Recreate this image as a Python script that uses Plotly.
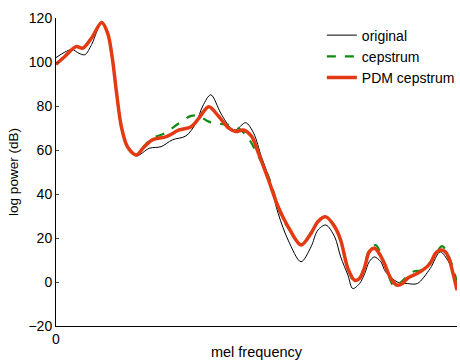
import plotly.graph_objects as go

# x in mel-frequency units (0..100 across the plotted range)
x_orig = [0, 2.2, 4.0, 5.7, 7.2, 8.9, 11.4, 12.9, 14.1, 15.1, 16.3, 17.8, 20.0, 23.3, 26.2, 29.0,
          32.4, 34.9, 36.6, 38.6, 41.1, 43.6, 44.8, 47.3, 49.3, 51.2, 53.0, 55.4, 57.9, 61.1,
          63.6, 65.3, 67.3, 69.5, 71.0, 72.8, 74.0, 75.7, 77.0, 78.1, 79.4, 81.0, 82.2, 85.1,
          87.6, 90.1, 93.3, 95.8, 97.9, 99.2, 100]
y_orig = [102, 104.5, 105.7, 104.0, 103.3, 108, 118, 113, 101, 86, 70.6, 61.5, 57.3, 60.8, 61.5, 64.6,
          66.4, 72.2, 80, 85.1, 76.7, 69.9, 69.1, 72.4, 67.6, 57, 47.9, 31.2, 19, 9.2,
          16, 23.6, 25.9, 20.5, 11.4, 3.1, -3, -0.7, 3.9, 9.2, 11.4, 9.2, 4.6, 0,
          -0.7, -0.7, 6.1, 13.7, 9.2, 3.9, 0.8]

x_cep = [0, 2.2, 5.0, 6.7, 8.9, 11.4, 12.9, 14.1, 15.1, 16.3, 17.8, 20.0, 21.8, 24.0, 27.0, 30.7,
         33.7, 35.6, 38.1, 40.6, 43.1, 45.5, 48.0, 50.5, 53.0, 56.3, 58.7, 61.1, 63.6, 65.3,
         67.3, 69.5, 71.0, 72.8, 74.3, 75.7, 77.0, 78.1, 79.7, 80.6, 82.2, 84.4, 86.4, 88.9,
         91.3, 93.8, 96.3, 98.3, 100]
y_cep = [99, 102.5, 107, 106.3, 111, 118, 113, 101, 86, 70.6, 61.5, 57.7, 61.5, 65.3, 67.5, 72.2,
         75.5, 75.5, 72.9, 72.0, 71.4, 69.9, 65.3, 57, 47.9, 29.6, 22.5, 17, 22.5, 27.5,
         29.8, 25.5, 18.5, 6, 0.5, 2, 7.5, 14.5, 16.8, 14.5, 7, -2.2, 0.5, 4.6,
         5.5, 10, 16.3, 10, 0]

x_pdm = [0, 2.2, 5.0, 6.7, 8.9, 11.4, 12.9, 14.1, 15.1, 16.3, 17.8, 20.0, 21.8, 24.0, 27.5, 30.7,
         33.7, 35.6, 38.1, 40.6, 43.1, 44.8, 46.8, 48.8, 50.5, 53.0, 55.4, 57.9, 61.1, 63.6,
         65.3, 67.3, 69.5, 71.0, 72.8, 74.5, 75.7, 77.0, 78.1, 79.4, 80.6, 81.9, 83.5, 85.1,
         86.4, 87.6, 90.8, 93.3, 94.6, 95.8, 97.1, 98.0, 98.8, 100]
y_pdm = [99, 102.5, 107, 106.3, 111, 118, 113, 101, 86, 70.6, 61.5, 57.7, 61, 64.6, 66.1, 69.1,
         70.6, 74.4, 79.7, 75.2, 69.9, 68.4, 69.1, 66.1, 58.5, 46.4, 34.2, 25.1, 16.8, 22.1,
         27.4, 29.6, 25.1, 19, 6.1, 0.8, 1.6, 6.9, 13.7, 15.3, 13, 8.4, 1.6, -1.5,
         -0.7, 1.6, 4.6, 8.4, 13, 14.5, 13.7, 10.7, 5.4, -3.7]

y_ticks = [-20, 0, 20, 40, 60, 80, 100, 120]

fig = go.Figure()
fig.add_trace(go.Scatter(x=x_orig, y=y_orig, mode="lines", name="original",
                         line=dict(color="black", width=1, shape="spline", smoothing=0.9)))
fig.add_trace(go.Scatter(x=x_cep, y=y_cep, mode="lines", name="cepstrum",
                         line=dict(color="#138a13", width=2.2, dash="dash", shape="spline", smoothing=0.9)))
fig.add_trace(go.Scatter(x=x_pdm, y=y_pdm, mode="lines", name="PDM cepstrum",
                         line=dict(color="#e43a14", width=3.5, shape="spline", smoothing=0.9)))

font = "Liberation Sans, Arial, sans-serif"
fig.update_layout(
    width=460, height=360,
    margin=dict(l=56, r=0, t=18, b=34, pad=0),
    paper_bgcolor="white", plot_bgcolor="white",
    font=dict(family=font, size=14, color="black"),
    showlegend=True,
    legend=dict(x=0.663, y=0.995, xanchor="left", yanchor="top",
                bgcolor="rgba(0,0,0,0)", font=dict(size=14), itemwidth=30,
                tracegroupgap=0),
    xaxis=dict(range=[0, 100], tickvals=[0], ticktext=["0"], showgrid=False, zeroline=False,
               showline=True, linecolor="black", linewidth=1, ticks="inside", ticklen=3,
               title=dict(text="mel frequency", font=dict(size=14.5), standoff=11),
               automargin=False),
    yaxis=dict(range=[-20, 120], tickvals=y_ticks, showgrid=False, zeroline=False,
               showline=True, linecolor="black", linewidth=1, ticks="inside", ticklen=3,
               title=dict(text="log power (dB)", font=dict(size=13.5), standoff=6),
               automargin=False),
)
fig.write_html("out.html")
